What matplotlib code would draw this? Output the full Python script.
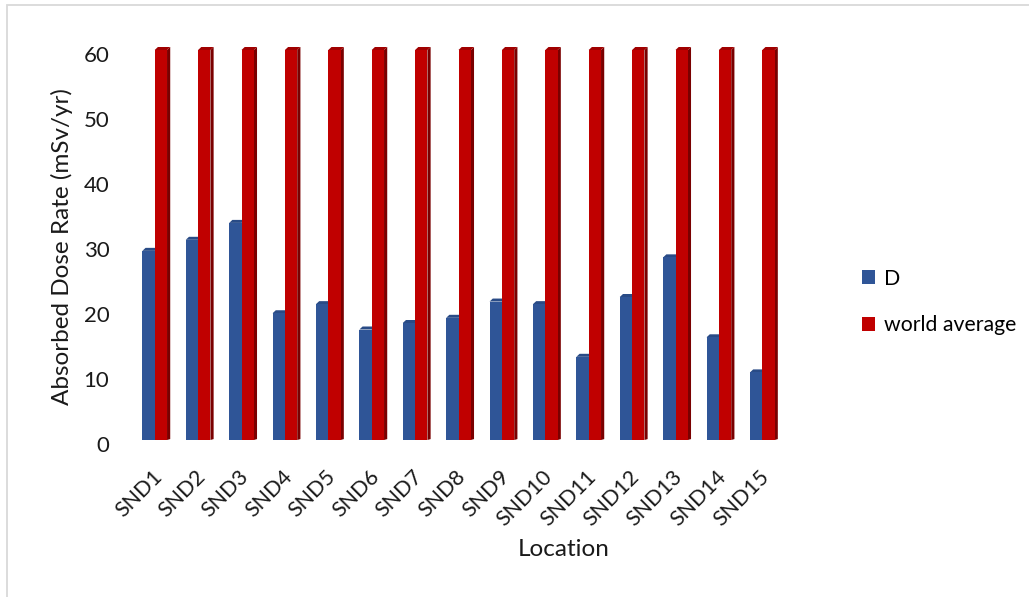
import matplotlib
matplotlib.use("Agg")
import matplotlib.pyplot as plt
from matplotlib.patches import Polygon, Patch, Rectangle
from matplotlib.transforms import ScaledTranslation

locations = ["SND1", "SND2", "SND3", "SND4", "SND5", "SND6", "SND7", "SND8",
             "SND9", "SND10", "SND11", "SND12", "SND13", "SND14", "SND15"]
dose_d = [29.1, 30.8, 33.4, 19.5, 20.9, 17.0, 18.0, 18.8,
          21.3, 20.9, 12.8, 22.0, 28.1, 15.8, 10.4]
world_average = [60] * len(locations)
y_ticks = [0, 10, 20, 30, 40, 50, 60]

series = [
    ("D", dose_d, "#2F5597", "#1F3A68", "#294B86"),
    ("world average", world_average, "#C00000", "#7A0000", "#A00000"),
]

plt.rcParams["font.family"] = ["Lato", "DejaVu Sans"]

W, H = 1029, 597
fig = plt.figure(figsize=(W / 100, H / 100), dpi=100)

# plot area in pixels
left_px, right_px = 133, 784
bottom_px, top_px = 440, 37
ymax = 62.0
ax = fig.add_axes([left_px / W, 1 - bottom_px / H,
                   (right_px - left_px) / W, (bottom_px - top_px) / H])
ax.set_xlim(-0.5, len(locations) - 0.5)
ax.set_ylim(0, ymax)

bar_w = 0.284
px_x = (right_px - left_px) / len(locations)     # pixels per category
px_y = (bottom_px - top_px) / ymax               # pixels per unit
dx = 3.2 / px_x                                  # depth offset, x
dy = 3.0 / px_y                                  # depth offset, y

for s, (name, vals, front, side, top) in enumerate(series):
    for i, v in enumerate(vals):
        x0 = i - bar_w + s * bar_w
        x1 = x0 + bar_w
        # side face
        ax.add_patch(Polygon([(x1, 0), (x1 + dx, dy * 0.3), (x1 + dx, v + dy), (x1, v)],
                             closed=True, facecolor=side, edgecolor="none", zorder=2 + s))
        # top face
        ax.add_patch(Polygon([(x0, v), (x0 + dx, v + dy), (x1 + dx, v + dy), (x1, v)],
                             closed=True, facecolor=top, edgecolor="none", zorder=2 + s))
        # front face
        ax.add_patch(Rectangle((x0, 0), bar_w, v, facecolor=front,
                               edgecolor="none", zorder=2.5 + s))

for sp in ax.spines.values():
    sp.set_visible(False)

ax.set_xticks(range(len(locations)))
ax.set_xticklabels(locations, rotation=45, ha="right", va="top",
                   rotation_mode="anchor", fontsize=15.5, color="#1a1a1a")
ax.set_yticks(y_ticks)
ax.set_yticklabels([str(t) for t in y_ticks], fontsize=16, color="#1a1a1a")
ax.tick_params(axis="both", length=0)
ax.tick_params(axis="y", pad=17)
ax.tick_params(axis="x", pad=19)
shift = ScaledTranslation(0, -4 / 100, fig.dpi_scale_trans)
for lbl in ax.get_yticklabels():
    lbl.set_transform(lbl.get_transform() + shift)
xshift = ScaledTranslation(-3 / 100, 0, fig.dpi_scale_trans)
for lbl in ax.get_xticklabels():
    lbl.set_transform(lbl.get_transform() + xshift)

fig.text(62 / W, 1 - 247 / H, "Absorbed Dose Rate (mSv/yr)", rotation=90,
         ha="center", va="center", fontsize=17.5, color="#1a1a1a")
fig.text(564 / W, 1 - 549 / H, "Location", ha="center", va="center",
         fontsize=17.5, color="#1a1a1a")

handles = [Patch(facecolor=c, edgecolor="none", label=n) for n, _, c, _, _ in series]
fig.legend(handles=handles, loc="center left", bbox_to_anchor=(853 / W, 1 - 302 / H),
           frameon=False, fontsize=15.3, handlelength=0.65, handleheight=0.65,
           handletextpad=0.4, labelspacing=1.25, borderaxespad=0)

# chart border
fig.add_artist(Rectangle((7 / W, -0.1), 1.2, 1 - 5 / H + 0.1,
                         transform=fig.transFigure, facecolor="none",
                         edgecolor="#D9D9D9", linewidth=1.3))

fig.savefig("out.png", dpi=100)
